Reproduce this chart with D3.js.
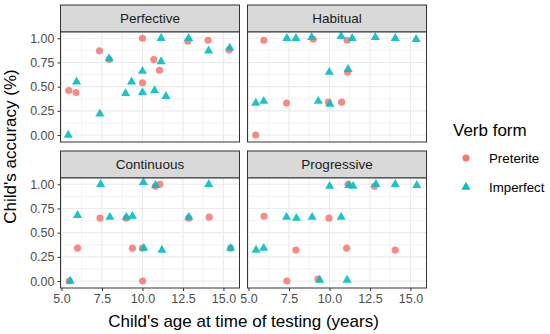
<!DOCTYPE html>
<html><head><meta charset="utf-8">
<script src="https://cdn.jsdelivr.net/npm/d3@7"></script>
<style>body{margin:0;background:#fff;} svg{display:block;font-family:"Liberation Sans",Arial,sans-serif;}</style>
</head><body>
<svg id="chart" width="550" height="334"></svg>
<script>
// ---- data ----
const panels = ["Perfective", "Habitual", "Continuous", "Progressive"];
const verbForms = ["Preterite", "Imperfect"];
const xTicks = [5.0, 7.5, 10.0, 12.5, 15.0];
const yTicks = [0.00, 0.25, 0.50, 0.75, 1.00];

// [age, accuracy]
const perfectivePreterite = [[5.45,0.46],[5.9,0.44],[7.35,0.87],[7.95,0.78],[10.0,1.0],[10.0,0.54],[10.7,0.78],[11.05,0.67],[12.8,0.97],[14.05,0.98],[15.35,0.88]];
const perfectiveImperfect = [[5.42,0.0],[5.93,0.55],[7.37,0.22],[7.94,0.79],[8.96,0.43],[9.33,0.55],[10.0,0.66],[10.0,0.44],[10.75,0.46],[11.15,1.0],[11.15,0.76],[11.45,0.40],[12.85,1.0],[14.08,0.87],[15.39,0.9]];
const habitualPreterite = [[5.45,0.0],[5.95,0.98],[7.35,0.33],[9.0,0.99],[9.93,0.34],[10.75,0.34],[11.09,0.98],[11.12,0.65]];
const habitualImperfect = [[5.45,0.33],[5.94,0.35],[7.37,1.0],[7.93,1.0],[8.9,1.01],[9.31,0.35],[9.99,0.65],[10.03,0.32],[10.72,1.02],[11.15,0.68],[11.4,1.0],[12.83,1.01],[14.06,1.0],[15.35,0.99]];
const continuousPreterite = [[5.48,0.0],[5.99,0.34],[7.38,0.65],[9.0,0.65],[9.38,0.34],[10.0,0.34],[10.01,0.0],[10.8,0.98],[11.07,1.0],[12.86,0.65],[14.12,0.66],[15.44,0.34]];
const continuousImperfect = [[5.54,0.0],[5.99,0.68],[7.42,1.0],[7.99,0.66],[9.01,0.66],[9.38,0.67],[10.06,1.02],[10.08,0.34],[10.81,0.99],[11.2,0.32],[12.86,0.66],[14.09,1.0],[15.44,0.34]];
const progressivePreterite = [[5.96,0.67],[7.37,0.0],[7.93,0.32],[9.29,0.02],[9.97,0.65],[11.06,0.34],[11.15,1.0],[12.77,0.98],[14.06,0.32]];
const progressiveImperfect = [[5.47,0.32],[5.94,0.34],[7.35,0.66],[7.96,0.65],[8.93,0.66],[9.4,0.01],[10.01,0.98],[10.72,0.66],[11.09,0.01],[11.2,0.99],[11.46,0.98],[12.87,1.0],[14.06,1.0],[15.39,0.99]];

const panelData = {
  Perfective:  {Preterite: perfectivePreterite,  Imperfect: perfectiveImperfect},
  Habitual:    {Preterite: habitualPreterite,    Imperfect: habitualImperfect},
  Continuous:  {Preterite: continuousPreterite,  Imperfect: continuousImperfect},
  Progressive: {Preterite: progressivePreterite, Imperfect: progressiveImperfect}
};

// ---- layout ----
const colors = {Preterite: "#F8766D", Imperfect: "#00BFC4"};
const panelW = 179, panelH = 110, stripH = 27;
const colX = [60.5, 247.5];
const rowY = [5, 151];

const x = d3.scaleLinear().domain([4.94, 15.99]).range([0, panelW]);
const y = d3.scaleLinear().domain([-0.072, 1.065]).range([panelH, 0]);

const svg = d3.select("#chart");
const circlePath = d3.symbol().type(d3.symbolCircle).size(40);
const triPath = d3.symbol().type(d3.symbolTriangle).size(36);

panels.forEach((name, i) => {
  const col = i % 2, row = Math.floor(i / 2);
  const gx = colX[col], gy = rowY[row];
  const g = svg.append("g").attr("transform", `translate(${gx},${gy})`);

  // strip
  g.append("rect").attr("x", 0).attr("y", 0).attr("width", panelW).attr("height", stripH)
    .attr("fill", "#D9D9D9").attr("stroke", "#333333").attr("stroke-width", 1);
  g.append("text").attr("x", panelW / 2).attr("y", stripH / 2).attr("dy", "0.35em")
    .attr("text-anchor", "middle").attr("font-size", 13.5).attr("fill", "#1A1A1A").text(name);

  const p = g.append("g").attr("transform", `translate(0,${stripH})`);
  p.append("rect").attr("width", panelW).attr("height", panelH).attr("fill", "#fff");

  // minor grid
  const xMinor = xTicks.slice(0, -1).map((t, k) => (t + xTicks[k + 1]) / 2).concat([xTicks[0] - 1.25, xTicks[xTicks.length-1] + 1.25]).filter(v => v > x.domain()[0] && v < x.domain()[1]);
  const yMinor = yTicks.slice(0, -1).map((t, k) => (t + yTicks[k + 1]) / 2);
  p.selectAll(".xminor").data(xMinor).join("line")
    .attr("x1", d => x(d)).attr("x2", d => x(d)).attr("y1", 0).attr("y2", panelH)
    .attr("stroke", "#EBEBEB").attr("stroke-width", 0.6);
  p.selectAll(".yminor").data(yMinor).join("line")
    .attr("x1", 0).attr("x2", panelW).attr("y1", d => y(d)).attr("y2", d => y(d))
    .attr("stroke", "#EBEBEB").attr("stroke-width", 0.6);
  // major grid
  p.selectAll(".xmajor").data(xTicks).join("line")
    .attr("x1", d => x(d)).attr("x2", d => x(d)).attr("y1", 0).attr("y2", panelH)
    .attr("stroke", "#EBEBEB").attr("stroke-width", 1.1);
  p.selectAll(".ymajor").data(yTicks).join("line")
    .attr("x1", 0).attr("x2", panelW).attr("y1", d => y(d)).attr("y2", d => y(d))
    .attr("stroke", "#EBEBEB").attr("stroke-width", 1.1);

  // points: preterite first, imperfect on top
  const pre = panelData[name].Preterite, imp = panelData[name].Imperfect;
  p.selectAll(".pre").data(pre).join("path")
    .attr("d", circlePath).attr("transform", d => `translate(${x(d[0])},${y(d[1])})`)
    .attr("fill", colors.Preterite).attr("fill-opacity", 0.85);
  p.selectAll(".imp").data(imp).join("path")
    .attr("d", triPath).attr("transform", d => `translate(${x(d[0])},${y(d[1])})`)
    .attr("fill", colors.Imperfect).attr("fill-opacity", 0.9);

  // border
  p.append("rect").attr("width", panelW).attr("height", panelH).attr("fill", "none")
    .attr("stroke", "#333333").attr("stroke-width", 1);

  // axes
  if (col === 0) {
    const ya = p.append("g").call(d3.axisLeft(y).tickValues(yTicks).tickFormat(d3.format(".2f")).tickSize(3).tickPadding(3));
    ya.select(".domain").remove();
    ya.selectAll("line").attr("stroke", "#333333");
    ya.selectAll("text").attr("font-size", 12.5).attr("fill", "#4D4D4D").attr("font-family", "Liberation Sans, Arial, sans-serif");
  }
  if (row === 1) {
    const xa = p.append("g").attr("transform", `translate(0,${panelH})`)
      .call(d3.axisBottom(x).tickValues(xTicks).tickFormat(d3.format(".1f")).tickSize(3).tickPadding(3));
    xa.select(".domain").remove();
    xa.selectAll("line").attr("stroke", "#333333");
    xa.selectAll("text").attr("font-size", 12.5).attr("fill", "#4D4D4D").attr("font-family", "Liberation Sans, Arial, sans-serif");
  }
});

// axis titles
svg.append("text").attr("x", (colX[0] + colX[1] + panelW) / 2).attr("y", 327)
  .attr("text-anchor", "middle").attr("font-size", 17).attr("fill", "#000")
  .text("Child's age at time of testing (years)");
svg.append("text").attr("transform", `translate(16,${(rowY[0] + rowY[1] + stripH + panelH) / 2}) rotate(-90)`)
  .attr("text-anchor", "middle").attr("font-size", 17).attr("fill", "#000")
  .text("Child's accuracy (%)");

// legend
const leg = svg.append("g").attr("transform", "translate(453,0)");
leg.append("text").attr("x", 0).attr("y", 136).attr("font-size", 17).attr("fill", "#000").text("Verb form");
const legY = [158, 187];
verbForms.forEach((f, k) => {
  leg.append("path").attr("d", f === "Preterite" ? circlePath : triPath)
    .attr("transform", `translate(13,${legY[k]})`).attr("fill", colors[f]);
  leg.append("text").attr("x", 36).attr("y", legY[k]).attr("dy", "0.35em")
    .attr("font-size", 13.3).attr("fill", "#000").text(f);
});
</script>
</body></html>
